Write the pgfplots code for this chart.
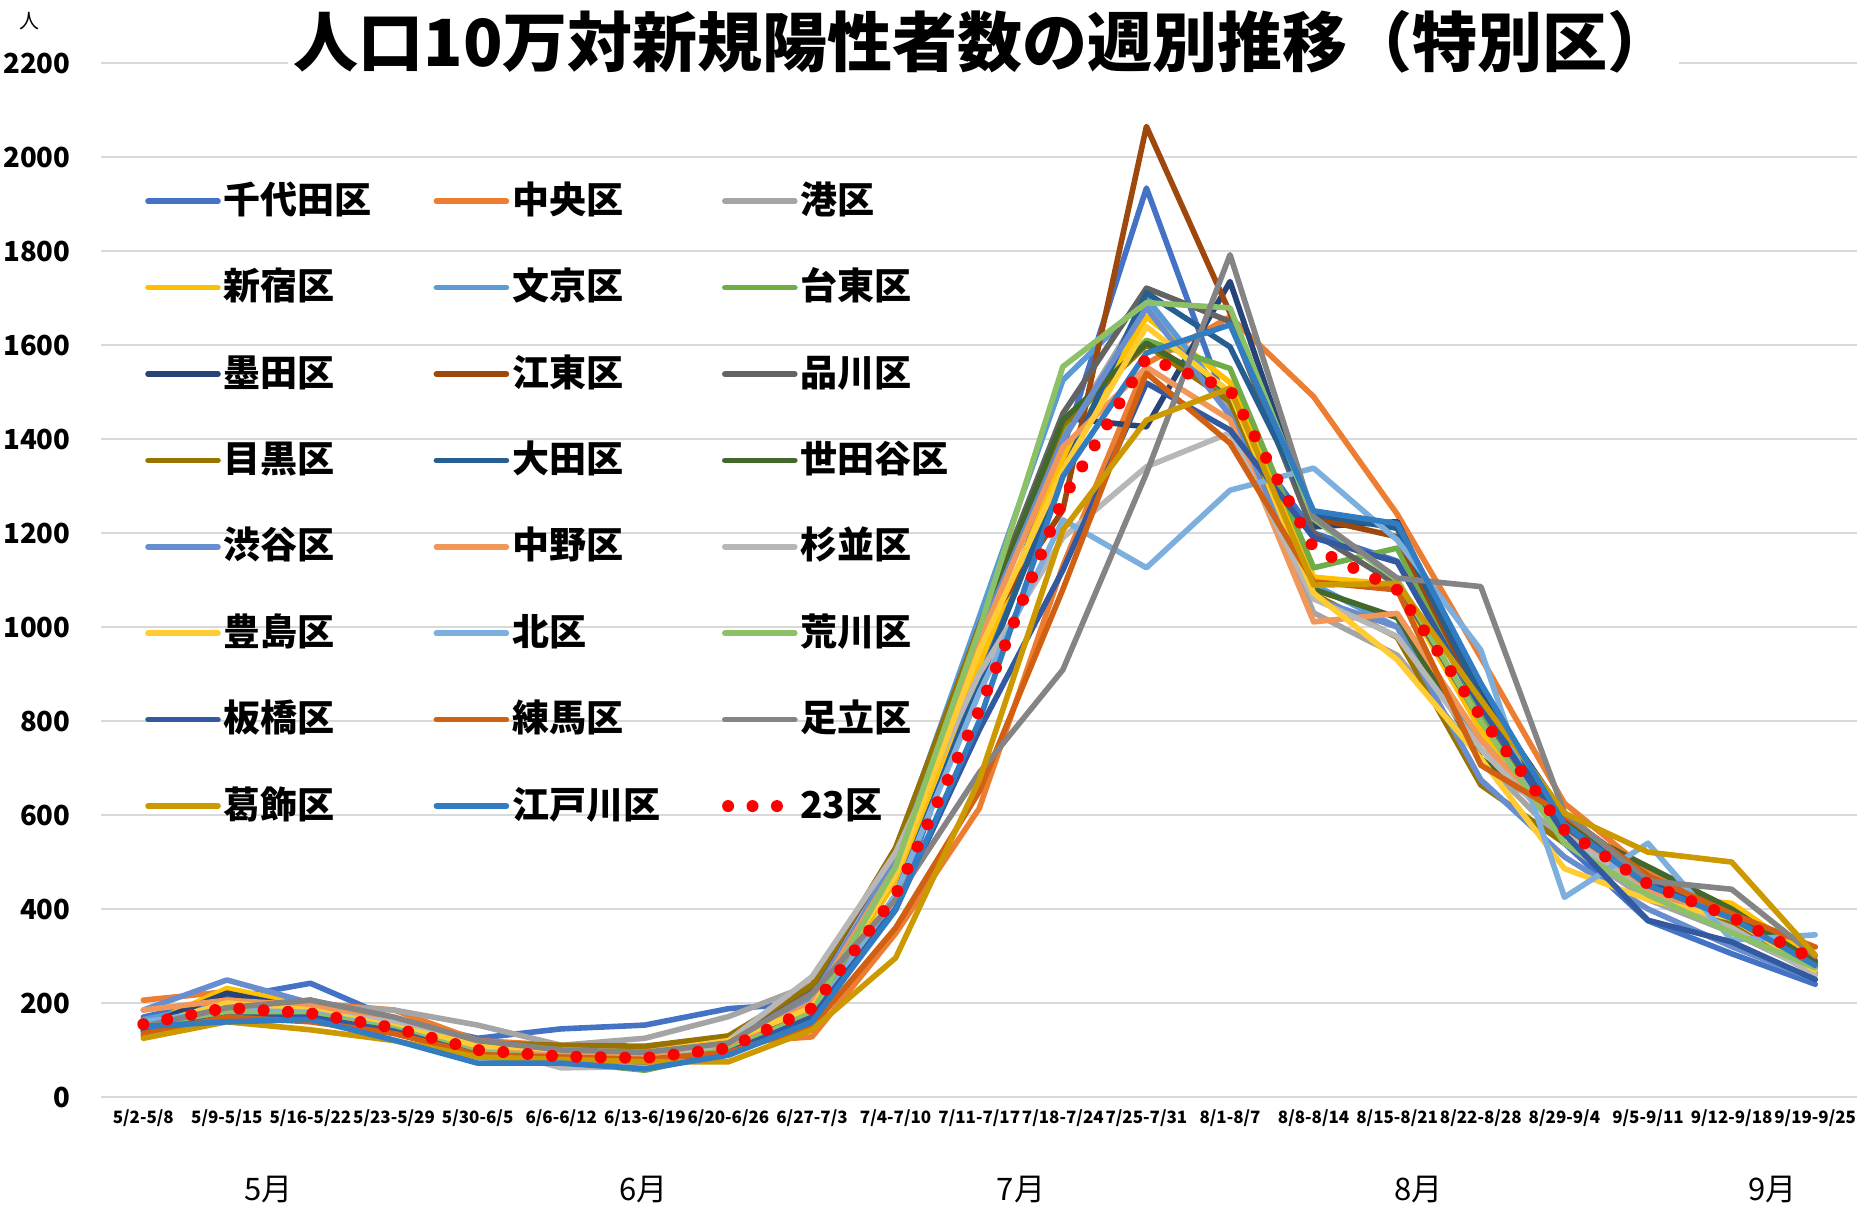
\documentclass[border=0pt]{standalone}
\usepackage{pgfplots}
\pgfplotsset{compat=1.18}
\usepackage{pgfplotstable}
\usepackage{fontspec}
\setmainfont{Noto Sans CJK JP}
\definecolor{k1}{HTML}{4472C4}
\definecolor{k2}{HTML}{ED7D31}
\definecolor{k3}{HTML}{A5A5A5}
\definecolor{k4}{HTML}{FFC000}
\definecolor{k5}{HTML}{5B9BD5}
\definecolor{k6}{HTML}{70AD47}
\definecolor{k7}{HTML}{264478}
\definecolor{k8}{HTML}{9E480E}
\definecolor{k9}{HTML}{636363}
\definecolor{k10}{HTML}{997300}
\definecolor{k11}{HTML}{255E91}
\definecolor{k12}{HTML}{43682B}
\definecolor{k13}{HTML}{698ED0}
\definecolor{k14}{HTML}{F1975A}
\definecolor{k15}{HTML}{B7B7B7}
\definecolor{k16}{HTML}{FFCD33}
\definecolor{k17}{HTML}{7CAFDD}
\definecolor{k18}{HTML}{8CC168}
\definecolor{k19}{HTML}{335AA1}
\definecolor{k20}{HTML}{D26012}
\definecolor{k21}{HTML}{848484}
\definecolor{k22}{HTML}{CC9A00}
\definecolor{k23}{HTML}{327DC2}
\definecolor{gridgray}{HTML}{D9D9D9}
\pgfplotsset{dotlegend/.style={legend image code/.code={\path[draw=none] (0pt,0pt) -- (35pt,0pt);\path[fill=red, draw=none, solid] (1.65pt,0pt) circle (3pt) (13.85pt,0pt) circle (3pt) (26.05pt,0pt) circle (3pt);}}}

\pgfplotstableread{
x c1 c2 c3 c4 c5 c6 c7 c8 c9 c10 c11 c12 c13 c14 c15 c16 c17 c18 c19 c20 c21 c22 c23 avg
0 170 206 160 150 165 140 150 145 155 130 150 145 185 185 150 150 160 145 140 135 150 125 150 155
1 210 224 200 231 200 175 221 180 190 185 180 185 249 206 180 200 185 180 170 170 190 160 160 190
2 242 200 195 195 185 170 185 175 206 180 180 180 200 195 180 185 180 175 170 160 206 143 165 178
3 165 185 185 160 150 140 150 145 165 150 145 150 160 160 160 150 145 145 140 135 170 120 121 147
4 125 120 153 110 100 85 105 95 110 115 95 105 110 105 110 110 95 95 90 90 120 85 72 100
5 145 110 110 95 90 75 100 90 100 110 85 95 95 95 62 100 85 85 80 85 100 80 72 86
6 153 100 125 90 80 57 95 90 95 108 80 92 90 90 65 95 75 75 75 80 95 75 60 83
7 188 115 171 115 95 95 110 100 120 130 95 110 110 110 120 120 95 100 95 95 115 75 89 104
8 200 128 240 180 175 175 200 190 230 238 170 200 210 200 256 190 170 180 170 150 220 143 160 189
9 400 348 520 460 520 480 500 470 530 530 430 490 500 490 520 470 430 490 400 360 420 296 398 430
10 900 614 960 920 1021 960 1000 980 1000 1000 880 990 980 970 900 950 860 994 781 650 690 674 800 823
11 1380 1130 1400 1360 1525 1420 1445 1249 1454 1430 1330 1440 1398 1383 1190 1334 1228 1554 1121 1080 909 1206 1320 1272
12 1934 1560 1690 1660 1700 1610 1426 2065 1721 1600 1711 1604 1679 1553 1341 1639 1126 1690 1519 1540 1327 1440 1583 1573
13 1450 1660 1460 1520 1476 1550 1735 1668 1650 1480 1596 1500 1450 1441 1413 1500 1291 1679 1419 1391 1792 1508 1643 1505
14 1200 1490 1030 1106 1090 1126 1213 1232 1200 1070 1240 1080 1060 1011 1060 1072 1338 1230 1190 1096 1234 1089 1247 1168
15 1140 1240 940 1090 1000 1168 1224 1192 1090 978 1210 1020 1000 1029 980 930 1185 1100 1138 1079 1104 1093 1220 1079
16 820 935 720 780 760 820 860 840 800 664 850 720 675 760 740 720 951 800 830 706 1086 845 880 809
17 540 625 540 560 560 560 600 590 570 540 580 580 511 560 560 486 425 540 560 600 605 604 580 568
18 375 480 420 430 440 440 470 460 450 440 460 490 400 440 430 420 540 430 376 470 460 521 450 453
19 305 400 350 412 370 370 390 385 380 370 390 400 320 380 360 380 334 350 330 390 442 500 380 383
20 240 290 265 290 265 270 280 290 280 260 280 285 250 275 260 270 345 275 250 319 300 302 280 291
}\data

\begin{document}
\begin{tikzpicture}
\begin{axis}[
  at={(0pt,0pt)}, anchor=south west,
  width=877.75pt, height=517pt, scale only axis,
  xmin=-0.5, xmax=20.5, ymin=0, ymax=2200,
  clip=false,
  axis line style={draw=none},
  major tick length=0pt,
  ytick={0,200,...,2200},
  ymajorgrids,
  grid style={draw=gridgray, line width=1pt},
  xtick={0,...,20},
  xticklabels={5/2-5/8,5/9-5/15,5/16-5/22,5/23-5/29,5/30-6/5,6/6-6/12,6/13-6/19,6/20-6/26,6/27-7/3,7/4-7/10,7/11-7/17,7/18-7/24,7/25-7/31,8/1-8/7,8/8-8/14,8/15-8/21,8/22-8/28,8/29-9/4,9/5-9/11,9/12-9/18,9/19-9/25},
  xticklabel style={font=\fontsize{8.5}{8.5}\selectfont\bfseries, anchor=center, yshift=-10.7pt, inner sep=0pt},
  yticklabel style={font=\fontsize{13.8}{13.8}\selectfont\bfseries, anchor=east, xshift=-15.3pt, inner sep=0pt},
  /pgf/number format/assume math mode=true,
  /pgf/number format/1000 sep={},
  scaled y ticks=false,
  legend columns=3,
  legend cell align=left,
  legend image code/.code={\draw[#1] (0pt,0pt) -- (35pt,0pt);},
  legend style={at={(0.0249,0.8837)}, anchor=north west, draw=none, fill=none,
    inner sep=0pt, outer sep=0pt, row sep=25.2pt,
    font=\fontsize{18.5}{18.5}\selectfont\bfseries,
    nodes={inner sep=0pt, text height=15pt, text depth=3pt},
    /tikz/every odd column/.append style={column sep=1.4pt},
    /tikz/every even column/.append style={column sep=31pt}},
  every axis plot/.append style={line width=2.8pt, line join=round, line cap=round},
]
\addplot[k1] table[x=x,y=c1]{\data}; \addlegendentry{千代田区}
\addplot[k2] table[x=x,y=c2]{\data}; \addlegendentry{中央区}
\addplot[k3] table[x=x,y=c3]{\data}; \addlegendentry{港区}
\addplot[k4] table[x=x,y=c4]{\data}; \addlegendentry{新宿区}
\addplot[k5] table[x=x,y=c5]{\data}; \addlegendentry{文京区}
\addplot[k6] table[x=x,y=c6]{\data}; \addlegendentry{台東区}
\addplot[k7] table[x=x,y=c7]{\data}; \addlegendentry{墨田区}
\addplot[k8] table[x=x,y=c8]{\data}; \addlegendentry{江東区}
\addplot[k9] table[x=x,y=c9]{\data}; \addlegendentry{品川区}
\addplot[k10] table[x=x,y=c10]{\data}; \addlegendentry{目黒区}
\addplot[k11] table[x=x,y=c11]{\data}; \addlegendentry{大田区}
\addplot[k12] table[x=x,y=c12]{\data}; \addlegendentry{世田谷区}
\addplot[k13] table[x=x,y=c13]{\data}; \addlegendentry{渋谷区}
\addplot[k14] table[x=x,y=c14]{\data}; \addlegendentry{中野区}
\addplot[k15] table[x=x,y=c15]{\data}; \addlegendentry{杉並区}
\addplot[k16] table[x=x,y=c16]{\data}; \addlegendentry{豊島区}
\addplot[k17] table[x=x,y=c17]{\data}; \addlegendentry{北区}
\addplot[k18] table[x=x,y=c18]{\data}; \addlegendentry{荒川区}
\addplot[k19] table[x=x,y=c19]{\data}; \addlegendentry{板橋区}
\addplot[k20] table[x=x,y=c20]{\data}; \addlegendentry{練馬区}
\addplot[k21] table[x=x,y=c21]{\data}; \addlegendentry{足立区}
\addplot[k22] table[x=x,y=c22]{\data}; \addlegendentry{葛飾区}
\addplot[k23] table[x=x,y=c23]{\data}; \addlegendentry{江戸川区}
\addplot[red, line width=6pt, dash pattern=on 0pt off 12.2pt, line cap=round, dotlegend]
  table[x=x,y=avg]{\data}; \addlegendentry{23区}
\node[font=\fontsize{15.5}{15.5}\selectfont, yshift=-46.5pt] at (axis cs:1.5,0) {5月};
\node[font=\fontsize{15.5}{15.5}\selectfont, yshift=-46.5pt] at (axis cs:5.98,0) {6月};
\node[font=\fontsize{15.5}{15.5}\selectfont, yshift=-46.5pt] at (axis cs:10.5,0) {7月};
\node[font=\fontsize{15.5}{15.5}\selectfont, yshift=-46.5pt] at (axis cs:15.25,0) {8月};
\node[font=\fontsize{15.5}{15.5}\selectfont, yshift=-46.5pt] at (axis cs:19.49,0) {9月};
\end{axis}
\node[fill=white, inner xsep=3pt, inner ysep=3pt, font=\fontsize{32.5}{32.5}\selectfont\bfseries] at (440.8pt,527.75pt) {人口10万対新規陽性者数の週別推移（特別区）};
\node[font=\fontsize{10}{10}\selectfont] at (-35.75pt,538pt) {人};
\pgfresetboundingbox
\useasboundingbox (-50.75pt,-55pt) rectangle (877.75pt,548.5pt);
\end{tikzpicture}
\end{document}
